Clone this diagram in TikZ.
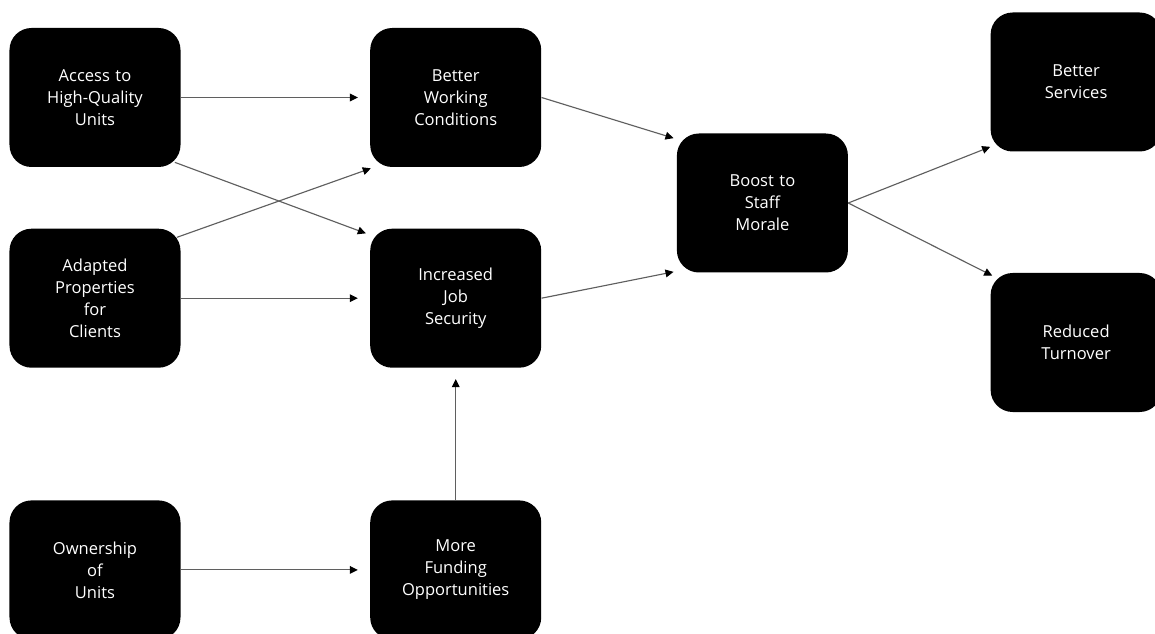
\documentclass[tikz,border=0pt]{standalone}
\usepackage{fontspec}
\setmainfont{Open Sans}
\usepackage{tikz}
\usetikzlibrary{arrows.meta,positioning,calc}
\definecolor{linegray}{RGB}{95,95,95}
\tikzstyle{block} = [rectangle, rounded corners=0.44cm, minimum width=3.42cm,
    minimum height=2.78cm, text centered, text width=3.2cm, fill=black,
    draw=none, text=white, font=\fontsize{9.4}{12.5}\selectfont, inner sep=0pt]
\tikzstyle{arrow} = [line width=0.65pt, draw=linegray,
    -{Triangle[length=4.6pt,width=4.4pt,fill=black,color=black]}]
\tikzstyle{gap} = [shorten >=0.24cm]

\begin{document}
\begin{tikzpicture}[node distance=1.22cm and 3.78cm]

\useasboundingbox (0,0) rectangle (23.1,-12.68);

% ── Sources ────
\node[block] (access) at (1.9,-1.95) {Access to\\High-Quality\\Units};
\node[block, below=of access] (adapted) {Adapted\\Properties\\for\\Clients};
\node[block, below=2.64cm of adapted] (ownership) {Ownership\\of\\Units};

% ── Middle column ────
\node[block, right=of access] (better) {Better\\Working\\Conditions};
\node[block, right=of adapted] (security) {Increased\\Job\\Security};
\node[block, right=of ownership] (funding) {More\\Funding\\Opportunities};

% ── Morale ────
\node[block, right=2.7cm of better, yshift=-2.11cm] (morale) {Boost to\\Staff\\Morale};

% ── Outcomes ────
\node[block, right=2.84cm of morale, yshift=2.42cm] (services) {Better\\Services};
\node[block, right=2.84cm of morale, yshift=-2.79cm] (turnover) {Reduced\\Turnover};

% ── Arrows ────
\draw[arrow, gap] (access.east) -- (access.east -| better.west);
\draw[arrow] ($(access.south east)+(-0.12,0.1)$) -- ($(security.north west)+(-0.08,-0.1)$);
\draw[arrow] ($(adapted.north east)+(-0.08,-0.18)$) -- ($(better.south west)+(0.02,-0.02)$);
\draw[arrow, gap] (adapted.east) -- (adapted.east -| security.west);
\draw[arrow, gap] (ownership.east) -- (ownership.east -| funding.west);
\draw[arrow, shorten >=0.22cm] (funding.north) -- (security.south);
\draw[arrow] (better.east) -- ($(morale.north west)+(-0.06,-0.1)$);
\draw[arrow] (security.east) -- ($(morale.south west)+(-0.06,0.02)$);
\draw[arrow] (morale.east) -- ($(services.south west)+(0,0.1)$);
\draw[arrow] (morale.east) -- ($(turnover.north west)+(0.04,-0.06)$);

\end{tikzpicture}
\end{document}
